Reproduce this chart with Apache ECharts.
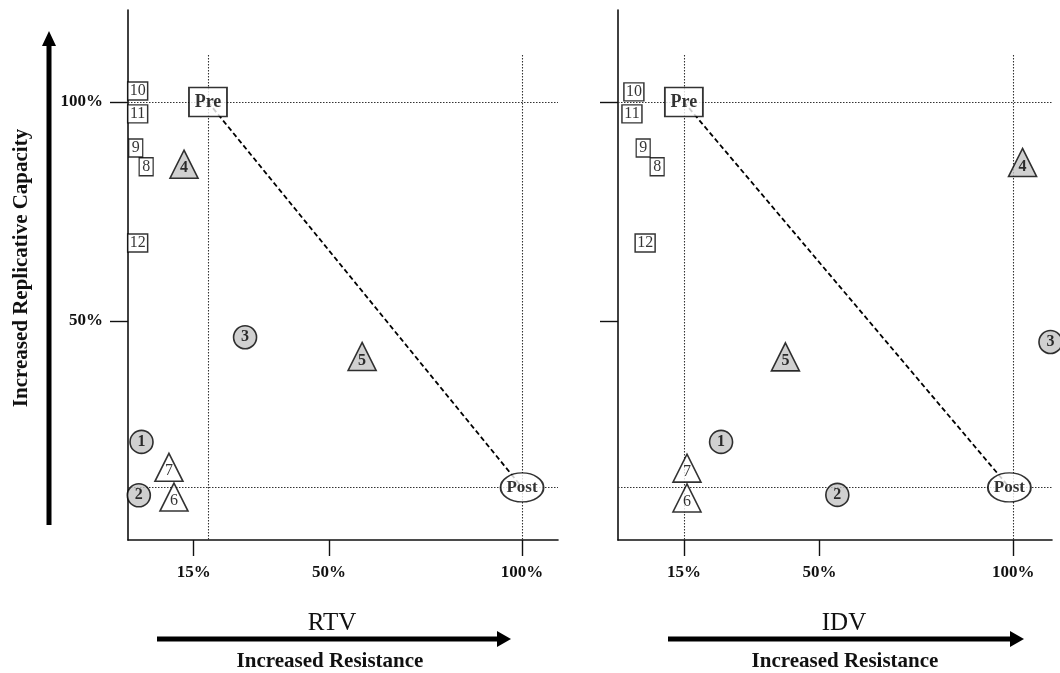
<!DOCTYPE html>
<html>
<head>
<meta charset="utf-8">
<script src="https://cdn.jsdelivr.net/npm/echarts@6.0.0/dist/echarts.min.js"></script>
<style>
html,body{margin:0;padding:0;background:#fff;}
#chart{width:1060px;height:673px;}
</style>
</head>
<body>
<div id="chart"></div>
<script>
// ---- data ----
const sampleIds = ['1','2','3','4','5','6','7','8','9','10','11','12'];
const circleIds = ['1','2','3'];
const grayTriangleIds = ['4','5'];
const whiteTriangleIds = ['6','7'];
const boxIds = ['8','9','10','11','12'];

// RTV panel (resistance %, replicative capacity %)
const rtvResistance = [1.5, 0.8, 28.3, 12.5, 58.6, 9.9, 8.6, 2.7, 0, 0.5, 0.5, 0.5];
const rtvCapacity   = [22.4, 10.2, 46.3, 85.8, 41.9, 9.8, 16.6, 85.2, 89.5, 102.5, 97.3, 67.8];
const rtvPre  = [18.7, 100];
const rtvPost = [100, 12];
const rtvRefX = [18.7, 100];   // dotted vertical reference lines
const rtvRefY = [100, 12];     // dotted horizontal reference lines

// IDV panel
const idvResistance = [24.6, 54.6, 109.6, 102.4, 41.2, 15.8, 15.8, 8.1, 4.5, 2.1, 1.6, 5.0];
const idvCapacity   = [22.4, 10.3, 45.2, 86.2, 41.8, 9.6, 16.4, 85.2, 89.5, 102.3, 97.3, 67.8];
const idvPre  = [15, 100];
const idvPost = [99, 12];
const idvRefX = [15, 100];
const idvRefY = [100, 12];

const xTickValues = [15, 50, 100];
const xTickLabels = ['15%', '50%', '100%'];
const yTickValues = [50, 100];
const yTickLabels = ['50%', '100%'];
const panelTitles = ['RTV', 'IDV'];
const yTitle = 'Increased Replicative Capacity';
const xSubTitle = 'Increased Resistance';

// ---- build ----
const SERIF = '"Liberation Serif", "DejaVu Serif", serif';
const INK = '#000';
const chart = echarts.init(document.getElementById('chart'), null, {renderer: 'canvas'});

function pts(ids, xs, ys, subset) {
  return subset.map(id => {
    const i = ids.indexOf(id);
    return {value: [xs[i], ys[i]], name: id};
  });
}

function panelSeries(gi, xs, ys, pre, post, refX, refY, xmax) {
  const common = {xAxisIndex: gi, yAxisIndex: gi, type: 'scatter', z: 5};
  const refLine = {type: [1.5, 1.5], color: '#333', width: 1.1};
  const lbl = {show: true, position: 'inside', formatter: '{b}', fontFamily: SERIF, color: INK, textBorderWidth: 0};
  const marks = []
    .concat(refX.map(x => [{coord: [x, 110.7]}, {coord: [x, 0]}]))
    .concat(refY.map(y => [{coord: [-2, y]}, {coord: [xmax, y]}]));
  return [
    {
      type: 'line', xAxisIndex: gi, yAxisIndex: gi, z: 2,
      data: [pre, post], symbol: 'none', silent: true,
      lineStyle: {color: INK, width: 1.8, type: [5, 3]},
      markLine: {
        silent: true, symbol: ['none', 'none'], label: {show: false},
        lineStyle: refLine, data: marks
      }
    },
    Object.assign({}, common, {
      data: pts(sampleIds, xs, ys, circleIds),
      symbol: 'circle', symbolSize: 23,
      itemStyle: {color: '#c4c4c4', borderColor: INK, borderWidth: 1.6},
      label: Object.assign({}, lbl, {fontWeight: 'bold', fontSize: 16})
    }),
    Object.assign({}, common, {
      data: pts(sampleIds, xs, ys, grayTriangleIds),
      symbol: 'triangle', symbolSize: [28, 28],
      itemStyle: {color: '#c4c4c4', borderColor: INK, borderWidth: 1.6},
      label: Object.assign({}, lbl, {offset: [0, 4], fontWeight: 'bold', fontSize: 16})
    }),
    Object.assign({}, common, {
      data: pts(sampleIds, xs, ys, whiteTriangleIds),
      symbol: 'triangle', symbolSize: [28, 28],
      itemStyle: {color: '#fff', borderColor: INK, borderWidth: 1.6},
      label: Object.assign({}, lbl, {offset: [0, 4], fontSize: 16})
    }),
    Object.assign({}, common, {
      data: pts(sampleIds, xs, ys, boxIds),
      symbol: 'rect', symbolSize: function (v, p) { return p.name.length > 1 ? [20, 18] : [14, 18]; },
      itemStyle: {color: '#fff', borderColor: INK, borderWidth: 1.4},
      label: Object.assign({}, lbl, {fontSize: 16})
    }),
    Object.assign({}, common, {
      data: [{value: pre, name: 'Pre'}],
      symbol: 'rect', symbolSize: [38, 29],
      itemStyle: {color: '#fff', borderColor: INK, borderWidth: 1.6},
      label: Object.assign({}, lbl, {fontWeight: 'bold', fontSize: 18})
    }),
    Object.assign({}, common, {
      data: [{value: post, name: 'Post'}],
      symbol: 'circle', symbolSize: [43, 29],
      itemStyle: {color: '#fff', borderColor: INK, borderWidth: 1.6},
      label: Object.assign({}, lbl, {fontWeight: 'bold', fontSize: 17})
    })
  ];
}

function xAxis(gi, max) {
  return {
    type: 'value', gridIndex: gi, min: -2, max: max,
    splitLine: {show: false},
    axisLine: {show: true, onZero: false, lineStyle: {color: '#111', width: 1.6}},
    axisTick: {show: true, inside: false, length: 16, customValues: xTickValues, lineStyle: {color: '#111', width: 1.4}},
    axisLabel: {
      show: true, margin: 24, customValues: xTickValues,
      formatter: v => xTickLabels[xTickValues.indexOf(v)] || '',
      fontFamily: SERIF, fontWeight: 'bold', fontSize: 17, color: '#111'
    }
  };
}
function yAxis(gi, showLabels) {
  return {
    type: 'value', gridIndex: gi, min: 0, max: 121,
    splitLine: {show: false},
    axisLine: {show: true, onZero: false, lineStyle: {color: '#111', width: 1.6}},
    axisTick: {show: true, inside: false, length: 18, customValues: yTickValues, lineStyle: {color: '#111', width: 1.4}},
    axisLabel: {
      show: showLabels, margin: 25, customValues: yTickValues,
      formatter: v => yTickLabels[yTickValues.indexOf(v)] || '',
      fontFamily: SERIF, fontWeight: 'bold', fontSize: 17, color: '#111'
    }
  };
}

function arrowH(x1, x2, y) {
  return [
    {type: 'line', shape: {x1: x1, y1: y, x2: x2 - 12, y2: y}, style: {stroke: '#000', lineWidth: 5}},
    {type: 'polygon', shape: {points: [[x2 - 14, y - 8], [x2 - 14, y + 8], [x2, y]]}, style: {fill: '#000'}}
  ];
}

const option = {
  backgroundColor: '#fff',
  animation: false,
  grid: [
    {left: 128, top: 10, width: 430, height: 530},
    {left: 618, top: 10, width: 434, height: 530}
  ],
  xAxis: [xAxis(0, 109.3), xAxis(1, 110)],
  yAxis: [yAxis(0, true), yAxis(1, false)],
  series: [].concat(
    panelSeries(0, rtvResistance, rtvCapacity, rtvPre, rtvPost, rtvRefX, rtvRefY, 109.3),
    panelSeries(1, idvResistance, idvCapacity, idvPre, idvPost, idvRefX, idvRefY, 110)
  ),
  graphic: [].concat(
    [
      {type: 'text', x: 22, y: 268, rotation: Math.PI / 2,
       style: {text: yTitle, font: 'bold 21px ' + SERIF, fill: '#111', align: 'center', verticalAlign: 'middle'}},
      {type: 'line', shape: {x1: 49, y1: 525, x2: 49, y2: 42}, style: {stroke: '#000', lineWidth: 5}},
      {type: 'polygon', shape: {points: [[42, 46], [56, 46], [49, 31]]}, style: {fill: '#000'}},
      {type: 'text', x: 332, y: 623, style: {text: panelTitles[0], font: '25px ' + SERIF, fill: '#111', align: 'center', verticalAlign: 'middle'}},
      {type: 'text', x: 844, y: 623, style: {text: panelTitles[1], font: '25px ' + SERIF, fill: '#111', align: 'center', verticalAlign: 'middle'}},
      {type: 'text', x: 330, y: 662, style: {text: xSubTitle, font: 'bold 21px ' + SERIF, fill: '#111', align: 'center', verticalAlign: 'middle'}},
      {type: 'text', x: 845, y: 662, style: {text: xSubTitle, font: 'bold 21px ' + SERIF, fill: '#111', align: 'center', verticalAlign: 'middle'}}
    ],
    arrowH(157, 511, 639),
    arrowH(668, 1024, 639)
  )
};
chart.setOption(option);
</script>
</body>
</html>
